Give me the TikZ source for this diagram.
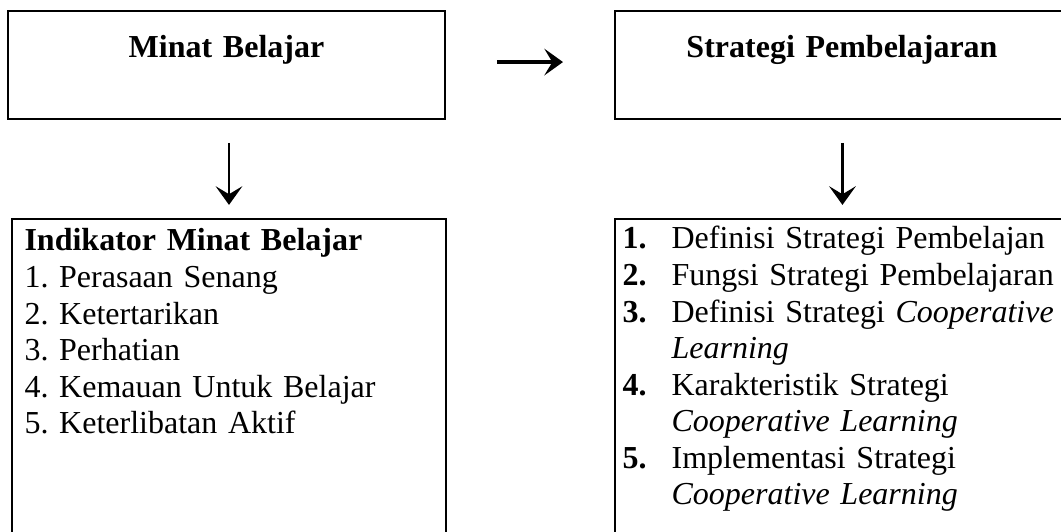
\documentclass[tikz,border=0pt]{standalone}
\usepackage{fontspec}
\setmainfont{Liberation Serif}
\usetikzlibrary{arrows.meta}

\newcommand{\nomor}[1]{\makebox[18.4pt][l]{\textbf{#1.}}}
\newcommand{\lanjut}{\hspace*{18.4pt}}

\begin{document}
\frenchspacing
\begin{tikzpicture}[x=0.375pt,y=-0.375pt,
    font=\fontsize{12}{13.7}\selectfont,
    kotak/.style={draw, line width=0.75pt, inner sep=0pt},
    judul/.style={kotak, font=\fontsize{12}{13.7}\selectfont\bfseries, align=center,
        text height=17.6pt, text depth=22.9pt},
    isi/.style={anchor=base west, inner sep=0pt, align=left, text width=165pt},
    panah/.style={-{Stealth[length=7pt,width=10pt,inset=3pt]}, line width=1pt}]

    \useasboundingbox (0,0) rectangle (1061,532);
    \clip (0,0) rectangle (1061,532);

    % kotak atas
    \node[judul, text width=163.9pt] (minat) at (226.5,65) {Minat Belajar};
    \node[judul, text width=170.3pt] (strategi) at (842,65) {Strategi Pembelajaran};

    % kotak bawah
    \node[kotak, anchor=north west, minimum width=162.75pt, minimum height=128pt]
        (indikatorbox) at (11,218) {};
    \node[kotak, anchor=north west, minimum width=170.6pt, minimum height=128pt]
        (materibox) at (614,218) {};

    \node[isi] (indikator) at (24,251) {\textbf{Indikator Minat Belajar}\\
        1. Perasaan Senang\\
        2. Ketertarikan\\
        3. Perhatian\\
        4. Kemauan Untuk Belajar\\
        5. Keterlibatan Aktif};

    \node[isi] (materi) at (622,249) {\nomor{1}Definisi Strategi Pembelajan\\
        \nomor{2}Fungsi Strategi Pembelajaran\\
        \nomor{3}Definisi Strategi \textit{Cooperative}\\
        \lanjut\textit{Learning}\\
        \nomor{4}Karakteristik Strategi\\
        \lanjut\textit{Cooperative Learning}\\
        \nomor{5}Implementasi Strategi\\
        \lanjut\textit{Cooperative Learning}};

    % panah
    \draw[panah, line width=1.2pt, shorten <=19.1pt, shorten >=19.1pt]
        ([yshift=1.1pt]minat.east) -- ([yshift=1.1pt]strategi.west);
    \draw[panah, shorten <=8.6pt, shorten >=4.9pt]
        (indikatorbox.north |- minat.south) -- (indikatorbox.north);
    \draw[panah, shorten <=8.6pt, shorten >=4.9pt]
        (materibox.north |- strategi.south) -- (materibox.north);

\end{tikzpicture}
\end{document}
